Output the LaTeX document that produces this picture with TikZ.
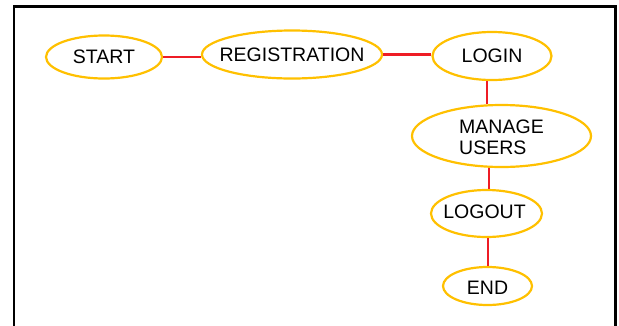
\documentclass[tikz,border=0pt]{standalone}
\usepackage{fontspec}
\setmainfont{Liberation Sans}
\usetikzlibrary{shapes.geometric}
\definecolor{gold}{HTML}{FFC000}
\definecolor{linkred}{HTML}{EE1C25}
\begin{document}
\begin{tikzpicture}[x=1pt,y=-1pt,
  stage/.style={ellipse,draw=gold,line width=2.2pt,inner sep=0pt},
  txt/.style={font=\fontsize{19.5}{20.5}\selectfont,text=black,inner sep=0pt},
  link/.style={draw=linkred,line width=2.8pt},
  frame/.style={draw=black,line width=2.4pt}]
\useasboundingbox (0,0) rectangle (619,325);
% frame
\draw[frame] (14,326) -- (14,6.5) -- (615.5,6.5) -- (615.5,326);
% nodes
\node[stage,minimum width=116pt,minimum height=43pt,
  label={[txt]center:START}] (start) at (104,57) {};
\node[stage,minimum width=180pt,minimum height=48pt,
  label={[txt]center:REGISTRATION}] (reg) at (292,54.5) {};
\node[stage,minimum width=119pt,minimum height=48pt,
  label={[txt]center:LOGIN}] (login) at (492,56) {};
\node[stage,minimum width=179pt,minimum height=62pt,
  label={[txt,align=left,yshift=-1.5pt]center:MANAGE\\USERS}] (manage) at (501.5,136) {};
\node[stage,minimum width=111pt,minimum height=47pt,
  label={[txt,xshift=-2pt,yshift=1.5pt]center:LOGOUT}] (logout) at (486.5,213.5) {};
\node[stage,minimum width=89pt,minimum height=38pt,
  label={[txt,yshift=-1.5pt]center:END}] (end) at (487.5,286) {};
% connectors
\draw[link] (start.east) -- (start.east -| reg.west);
\draw[link] (reg.east) -- (reg.east -| login.west);
\draw[link] ([xshift=-5pt]login.south) -- ([xshift=-5pt]login.south |- manage.north);
\draw[link] ([xshift=-12.5pt]manage.south) -- ([xshift=-12.5pt]manage.south |- logout.north);
\draw[link] ([xshift=1.5pt]logout.south) -- ([xshift=1.5pt]logout.south |- end.north);
\end{tikzpicture}
\end{document}
